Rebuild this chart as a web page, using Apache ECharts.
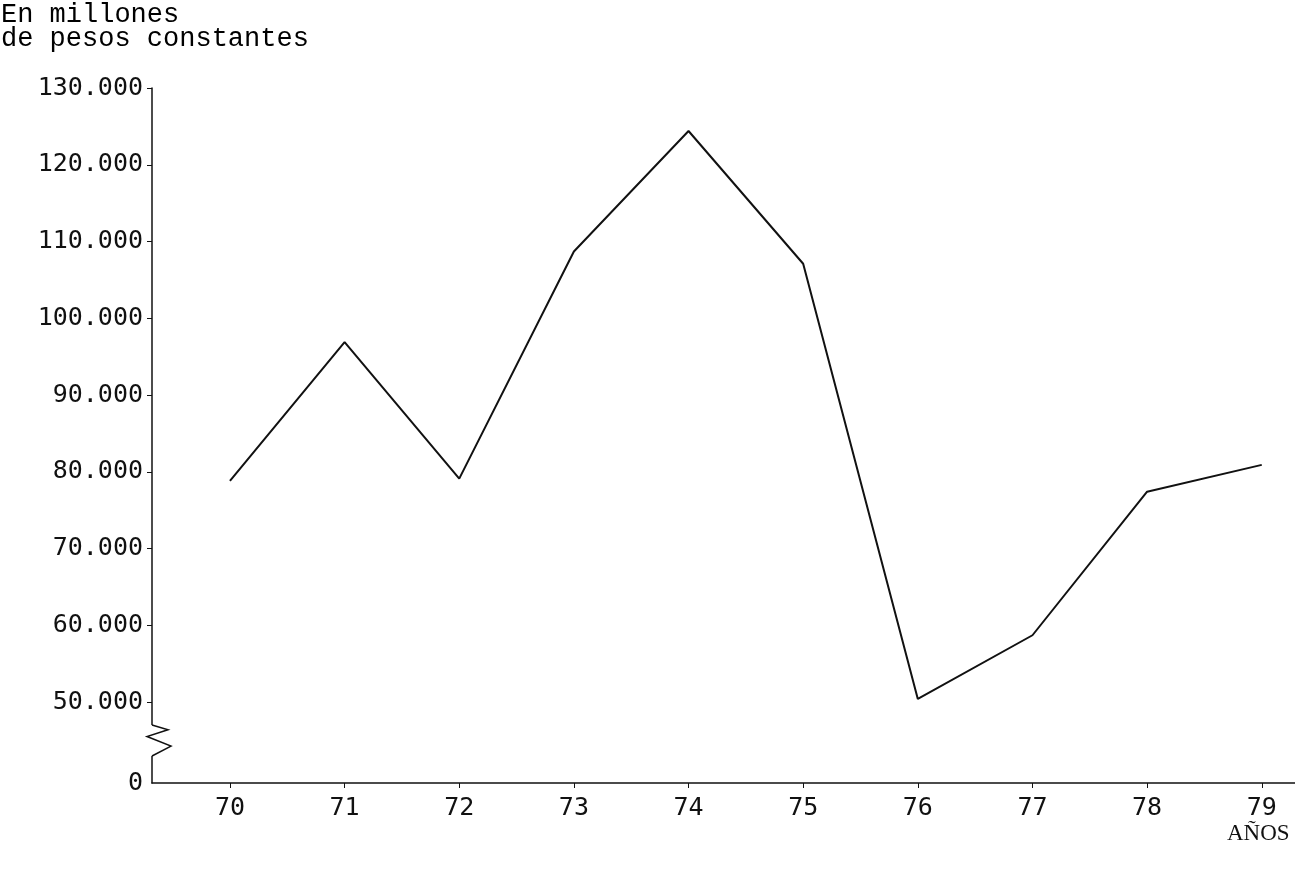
<!DOCTYPE html>
<html lang="es">
<head>
    <meta charset="UTF-8">
    <title>En millones de pesos constantes</title>
    <style>
        html, body { margin: 0; padding: 0; background: #fff; }
        #chart { width: 1295px; height: 871px; }
    </style>
</head>
<body>
    <div id="chart"></div>
    <script src="https://cdn.jsdelivr.net/npm/echarts@6/dist/echarts.min.js"></script>
    <script>
        // años (70 = 1970)
        let years = [70, 71, 72, 73, 74, 75, 76, 77, 78, 79];
        // millones de pesos constantes
        let values = [78800, 96900, 79100, 108700, 124400, 107100, 50400, 58700, 77400, 80900];
        // marcas del eje vertical (el 0 va debajo del corte)
        let yTicks = [50000, 60000, 70000, 80000, 90000, 100000, 110000, 120000, 130000];
        let yZero = 39450;

        let chart = echarts.init(document.getElementById('chart'));

        let option = {
            animation: false,
            backgroundColor: '#fff',
            title: {
                text: 'En millones\nde pesos constantes',
                left: 1,
                top: 3,
                padding: 0,
                textStyle: {
                    fontFamily: 'Liberation Mono',
                    fontSize: 27,
                    fontWeight: 'normal',
                    lineHeight: 24,
                    color: '#000'
                }
            },
            grid: {
                left: 152,
                right: 0,
                top: 88,
                bottom: 88
            },
            xAxis: {
                type: 'value',
                min: 69.32,
                max: 79.29,
                splitLine: { show: false },
                axisLine: { lineStyle: { color: '#111', width: 1.5 } },
                axisTick: {
                    customValues: years,
                    length: 5,
                    lineStyle: { color: '#111', width: 1 }
                },
                axisLabel: {
                    customValues: years,
                    margin: 13,
                    fontFamily: 'DejaVu Sans Mono',
                    fontSize: 25,
                    color: '#111',
                    formatter: function(v) { return String(Math.round(v)); }
                }
            },
            yAxis: {
                type: 'value',
                min: yZero,
                max: 130000,
                splitLine: { show: false },
                axisLine: { show: true, lineStyle: { color: '#111', width: 1.5 } },
                axisTick: {
                    customValues: yTicks,
                    length: 5,
                    lineStyle: { color: '#111', width: 1 }
                },
                axisLabel: {
                    customValues: [yZero].concat(yTicks),
                    margin: 9,
                    fontFamily: 'DejaVu Sans Mono',
                    fontSize: 25,
                    color: '#111',
                    formatter: function(v) {
                        if (v < 50000) return '0';
                        return Math.round(v / 1000) + '.000';
                    }
                }
            },
            series: [{
                type: 'line',
                data: years.map(function(y, i) { return [y, values[i]]; }),
                symbol: 'none',
                lineStyle: { color: '#111', width: 2 }
            }]
        };

        chart.setOption(option);

        // corte del eje vertical entre 0 y 50.000
        let p50 = chart.convertToPixel({ gridIndex: 0 }, [69.32, 50000]);
        let p0 = chart.convertToPixel({ gridIndex: 0 }, [69.32, yZero]);
        let ax = p50[0];
        let breakTop = p50[1] + 23;
        let breakBot = p0[1] - 27;
        let h = breakBot - breakTop;

        chart.setOption({
            graphic: [
                {
                    type: 'rect',
                    shape: { x: ax - 4, y: breakTop, width: 8, height: h },
                    style: { fill: '#fff' },
                    z: 100
                },
                {
                    type: 'polyline',
                    shape: {
                        points: [
                            [ax, breakTop],
                            [ax + 16, breakTop + h * 0.15],
                            [ax - 5, breakTop + h * 0.37],
                            [ax + 19, breakTop + h * 0.68],
                            [ax, breakBot]
                        ]
                    },
                    style: { stroke: '#111', lineWidth: 1.5, fill: null },
                    z: 101
                },
                {
                    type: 'text',
                    left: 1227,
                    top: 822,
                    style: {
                        text: 'AÑOS',
                        fontFamily: 'Liberation Serif',
                        fontSize: 23,
                        fill: '#111'
                    }
                }
            ]
        });
    </script>
</body>
</html>
